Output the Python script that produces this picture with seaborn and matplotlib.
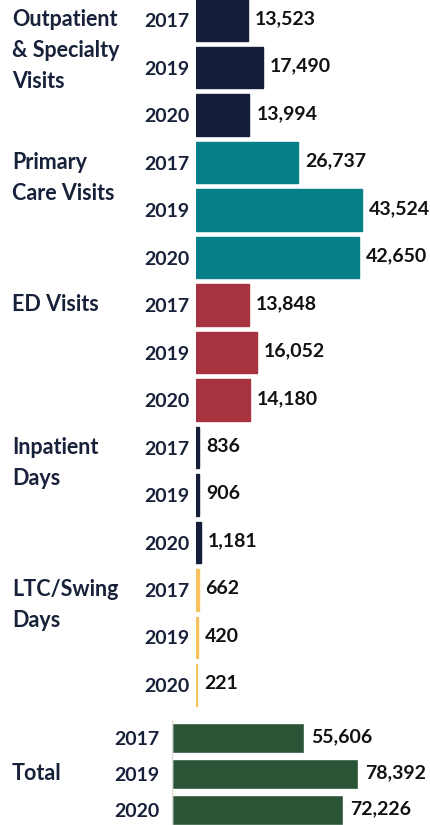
import pandas as pd
import numpy as np
import matplotlib.pyplot as plt
import matplotlib.transforms as mtransforms
import seaborn as sns

# data
categories = ["Outpatient\n& Specialty\nVisits", "Primary\nCare Visits", "ED Visits",
              "Inpatient\nDays", "LTC/Swing\nDays"]
years = ["2017", "2019", "2020"]
outpatient = [13523, 17490, 13994]
primary_care = [26737, 43524, 42650]
ed_visits = [13848, 16052, 14180]
inpatient = [836, 906, 1181]
ltc_swing = [662, 420, 221]
total = [55606, 78392, 72226]

colors = ["#141d3a", "#067f89", "#a6333f", "#141d3a", "#f8c35e"]
total_color = "#2b5436"
text_color = "#18213a"

sns.set_theme(style="white")
plt.rcParams['font.family'] = ['Lato', 'DejaVu Sans']

rows = []
for cat, vals in zip(categories, [outpatient, primary_care, ed_visits, inpatient, ltc_swing]):
    for yr, v in zip(years, vals):
        rows.append({"cat": cat, "year": yr, "value": v})
df = pd.DataFrame(rows)
df["row"] = np.arange(len(df))

df_total = pd.DataFrame({"year": years, "value": total, "row": np.arange(3)})

fig = plt.figure(figsize=(4.31, 8.25), dpi=100)
W, H = 431, 825

# top panel
ax = fig.add_axes([196 / W, 1 - 708.75 / H, 1 - 196 / W, 712.5 / H])
sns.barplot(data=df, y="row", x="value", hue="cat", palette=colors, orient="h",
            dodge=False, width=0.88, legend=False, ax=ax, saturation=1)
# thin edge in the bar colour so the tiny bars still show
for p in ax.patches:
    p.set_edgecolor(p.get_facecolor())
    p.set_linewidth(1)
ax.set_xlim(0, 235 / (166 / 43524))
ax.set_ylim(14.5, -0.5)
ax.set_yticks(df["row"])
ax.set_yticklabels(df["year"], fontsize=14, fontweight="bold", color=text_color)
ax.tick_params(axis="y", length=0, pad=4.5)
ax.set_xticks([])
ax.set_xlabel("")
ax.set_ylabel("")
for s in ax.spines.values():
    s.set_visible(False)

for r, v in zip(df["row"], df["value"]):
    ax.annotate(f"{v:,}", (v, r), xytext=(5, 1), textcoords="offset points",
                va="center", ha="left", fontsize=14, fontweight="bold", color="#111111")

trans = mtransforms.blended_transform_factory(fig.transFigure, ax.transData)
for i, cat in enumerate(categories):
    ax.text(12 / W, i * 3 - 0.23, cat, transform=trans,
            ha="left", va="top", fontsize=15.5, fontweight="bold", color=text_color,
            linespacing=1.6)

# bottom panel: total
ax2 = fig.add_axes([172 / W, 1 - 828 / H, 1 - 172 / W, 108 / H])
sns.barplot(data=df_total, y="row", x="value", color=total_color, orient="h",
            width=0.86, ax=ax2, saturation=1)
ax2.set_xlim(0, 259 / (186 / 78392))
ax2.set_ylim(2.5, -0.5)
ax2.set_yticks(df_total["row"])
ax2.set_yticklabels(years, fontsize=14, fontweight="bold", color=text_color)
ax2.tick_params(axis="y", length=0, pad=9)
ax2.set_xticks([])
ax2.set_xlabel("")
ax2.set_ylabel("")
for s in ax2.spines.values():
    s.set_visible(False)
ax2.spines["left"].set_visible(True)
ax2.spines["left"].set_color("#dddddd")
ax2.spines["left"].set_linewidth(1)

for r, v in zip(df_total["row"], df_total["value"]):
    ax2.annotate(f"{v:,}", (v, r), xytext=(5, 1), textcoords="offset points",
                 va="center", ha="left", fontsize=14, fontweight="bold", color="#111111")

trans2 = mtransforms.blended_transform_factory(fig.transFigure, ax2.transData)
ax2.text(12 / W, 1, "Total", transform=trans2,
         ha="left", va="center", fontsize=15.5, fontweight="bold", color=text_color)

fig.savefig("out.png", dpi=100)
